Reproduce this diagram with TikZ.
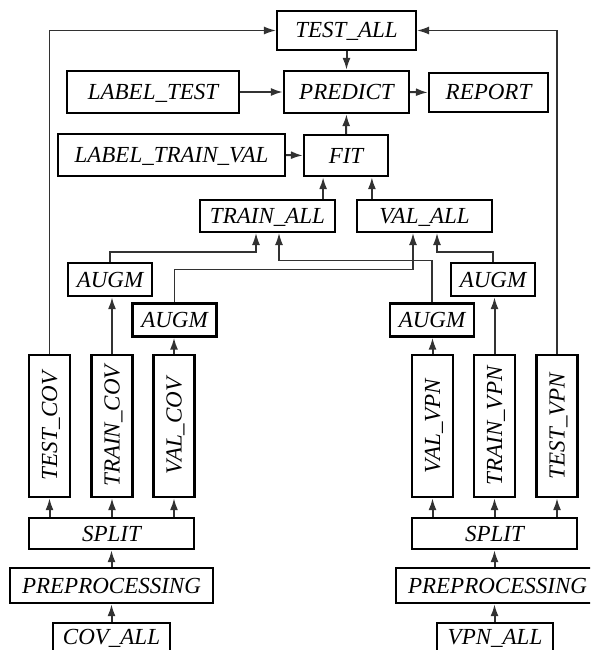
\documentclass[tikz,border=0pt]{standalone}
\usepackage{fontspec}
\setmainfont{Liberation Serif}
\usetikzlibrary{arrows.meta}
\definecolor{linegray}{RGB}{50,50,50}

\begin{document}
\begin{tikzpicture}[x=1pt, y=-1pt,
    box/.style={draw=black, line width=2.2pt, inner sep=0pt, text height=15pt, text depth=0pt, font=\itshape\fontsize{23}{27}\selectfont},
    vbox/.style={box, rotate=90, minimum width=142pt, minimum height=41pt},
    augmbox/.style={box, minimum width=84pt, minimum height=33pt},
    feed/.style={-{Latex[length=12pt,width=8pt]}, line width=2pt, draw=linegray},
    route/.style={-{Latex[length=12pt,width=8pt]}, line width=1.4pt, draw=linegray}]
    \path[use as bounding box] (0,0) rectangle (590,650);
    \clip (0,0) rectangle (590,650);

    % Evaluation
    \node[box, minimum width=139pt, minimum height=39pt] (testall) at (346.5,30.5) {TEST\_ALL};
    \node[box, minimum width=125pt, minimum height=42pt] (predict) at (346.5,92) {PREDICT};
    \node[box, minimum width=172pt, minimum height=42pt] (labeltest) at (153,92) {LABEL\_TEST};
    \node[box, minimum width=119pt, minimum height=39pt] (report) at (488.5,92.5) {REPORT};

    % Training
    \node[box, minimum width=227pt, minimum height=42pt] (labeltv) at (171.5,155) {LABEL\_TRAIN\_VAL};
    \node[box, minimum width=84pt, minimum height=41pt] (fit) at (346,155.5) {FIT};
    \node[box, minimum width=135pt, minimum height=32pt] (trainall) at (267.5,216) {TRAIN\_ALL};
    \node[box, minimum width=135pt, minimum height=32pt] (valall) at (424.5,216) {VAL\_ALL};

    % Augmentation
    \node[augmbox] (augmA) at (110,279.5) {AUGM};
    \node[augmbox] (augmB) at (174.5,320) {AUGM};
    \node[augmbox] (augmC) at (432,320) {AUGM};
    \node[augmbox] (augmD) at (493,279.5) {AUGM};

    % Split parts
    \node[vbox] (testcov) at (49.5,426) {TEST\_COV};
    \node[vbox] (traincov) at (112,426) {TRAIN\_COV};
    \node[vbox] (valcov) at (174,426) {VAL\_COV};
    \node[vbox] (valvpn) at (432.5,426) {VAL\_VPN};
    \node[vbox] (trainvpn) at (494.5,426) {TRAIN\_VPN};
    \node[vbox] (testvpn) at (557,426) {TEST\_VPN};

    % Sources
    \node[box, minimum width=165pt, minimum height=31pt] (splitL) at (111.5,533.5) {SPLIT};
    \node[box, minimum width=165pt, minimum height=31pt] (splitR) at (494.5,533.5) {SPLIT};
    \node[box, minimum width=203pt, minimum height=35pt] (preL) at (111.5,585.5) {PREPROCESSING};
    \node[box, minimum width=203pt, minimum height=35pt] (preR) at (497.5,585.5) {PREPROCESSING};
    \node[box, minimum width=117pt, minimum height=28pt] (covall) at (111.5,637) {COV\_ALL};
    \node[box, minimum width=116pt, minimum height=28pt] (vpnall) at (495,637) {VPN\_ALL};

    % Bottom chains
    \draw[feed] (covall.north) -- (preL.south);
    \draw[feed] (preL.north) -- (splitL.south);
    \draw[feed] (vpnall.north -| splitR) -- (preR.south -| splitR);
    \draw[feed] (preR.north -| splitR) -- (splitR.south);
    \foreach \n in {testcov,traincov,valcov}
        \draw[feed] (splitL.north -| \n) -- (\n.west);
    \foreach \n in {valvpn,trainvpn,testvpn}
        \draw[feed] (splitR.north -| \n) -- (\n.west);

    % Into augmentation
    \draw[feed] (traincov.east) -- (traincov.east |- augmA.south);
    \draw[feed] (valcov.east) -- (valcov.east |- augmB.south);
    \draw[feed] (valvpn.east) -- (valvpn.east |- augmC.south);
    \draw[feed] (trainvpn.east) -- (trainvpn.east |- augmD.south);

    % Routes to the merged sets
    \draw[route] (augmA.north) -- ++(0,-10) -| ([xshift=-11.5pt]trainall.south);
    \draw[route] (augmB.north) -- ++(0,-33) -| ([xshift=-11.5pt]valall.south);
    \draw[route] (augmC.north) -- ++(0,-42) -| ([xshift=11.5pt]trainall.south);
    \draw[route] (augmD.north) -- ++(0,-10) -| ([xshift=12.5pt]valall.south);
    \draw[route] (testcov.east) |- (testall.west);
    \draw[route] (testvpn.east) |- (testall.east);

    % Top part
    \draw[feed] ([xshift=-13pt]trainall.north east) -- ([xshift=-13pt]trainall.north east |- fit.south);
    \draw[feed] ([xshift=16pt]valall.north west) -- ([xshift=16pt]valall.north west |- fit.south);
    \draw[feed] (labeltv.east) -- (fit.west);
    \draw[feed] (fit.north) -- (predict.south);
    \draw[feed] (testall.south) -- (predict.north);
    \draw[feed] (labeltest.east) -- (predict.west);
    \draw[feed] (predict.east) -- (report.west);
\end{tikzpicture}
\end{document}
